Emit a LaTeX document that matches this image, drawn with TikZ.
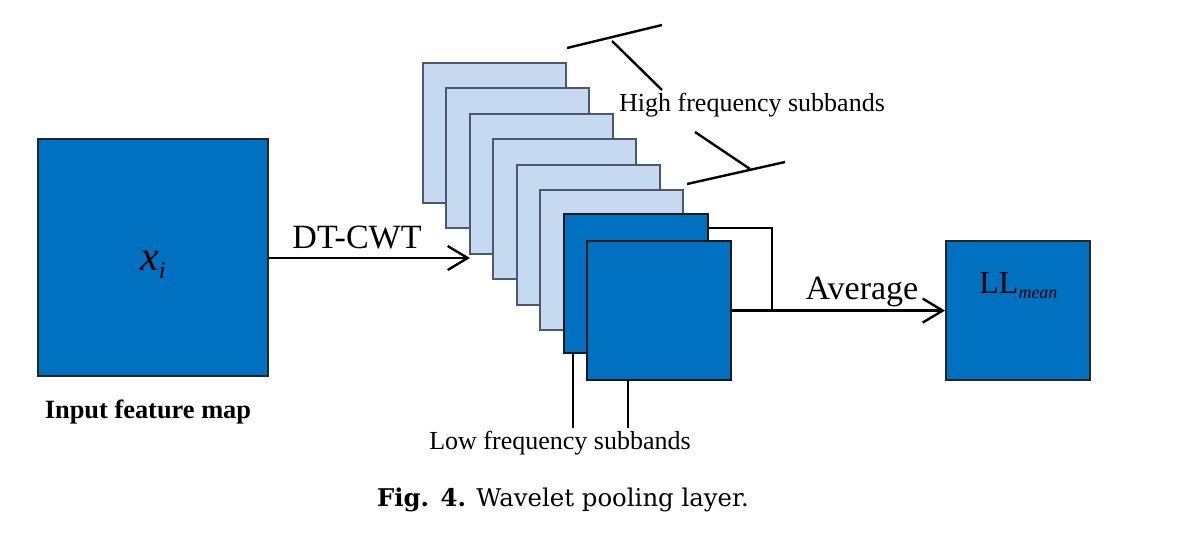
\documentclass[tikz,border=0pt]{standalone}
\usepackage{fontspec}
\setmainfont{Liberation Serif}
\newfontfamily\capfont{DejaVu Serif}
\usetikzlibrary{arrows.meta,calc}
\definecolor{darkblue}{HTML}{0070C0}
\definecolor{lightblue}{HTML}{C6D9F1}
\definecolor{lightedge}{HTML}{4A5870}
\tikzset{
  bigbox/.style={draw=black!85, line width=1pt, fill=darkblue, inner sep=0pt},
  lightsq/.style={draw=lightedge, line width=1pt, fill=lightblue, inner sep=0pt, anchor=north west, minimum width=71.5pt, minimum height=70pt},
  darksq/.style={draw=black!90, line width=1.1pt, fill=darkblue, inner sep=0pt, anchor=north west, minimum width=72pt, minimum height=69.5pt},
  conn/.style={line width=1.2pt, draw=black},
  arr/.style={conn, -{Straight Barb[length=10pt,width=12pt,line width=1.2pt]}},
  lbl/.style={inner sep=0pt, font=\fontsize{13}{15}\selectfont},
  big/.style={inner sep=0pt, font=\fontsize{17}{19}\selectfont}
}
\begin{document}
\begin{tikzpicture}[x=0.5pt,y=-0.5pt]
\useasboundingbox (0,0) rectangle (1184,552);
% input
\node[bigbox, minimum width=115pt, minimum height=118.5pt] (in) at (153,257.5) {};
\node[inner sep=0pt, font=\fontsize{21}{23}\selectfont, anchor=base] (xi) at (153,270) {\textit{x}\raisebox{-4pt}{\fontsize{12}{13}\selectfont\textit{i}}};
\node[lbl, font=\fontsize{13.2}{15}\selectfont\bfseries] (inlbl) at (148,412) {Input feature map};
% stack
\node[lightsq] (s1) at (422,62) {};
\node[lightsq] (s2) at (445.4,87.4) {};
\node[lightsq] (s3) at (468.9,112.9) {};
\node[lightsq] (s4) at (492.3,138.3) {};
\node[lightsq] (s5) at (515.7,163.7) {};
\node[lightsq] (s6) at (539.1,189.1) {};
\node[darksq] (d1) at (563,213) {};
\node[darksq] (d2) at (586,240) {};
% DT-CWT arrow
\coordinate (dtend) at (470,258);
\draw[arr] (in.east |- dtend) -- (dtend);
\node[big] (dt) at (357,237) {DT-CWT};
% LL box
\node[bigbox, minimum width=72pt, minimum height=69.5pt] (ll) at (1018,310.5) {};
\node[inner sep=0pt, font=\fontsize{16}{18}\selectfont, anchor=base west] (llt) at (979,293) {LL\textsubscript{\fontsize{9}{10}\selectfont\itshape mean}};
% average connectors
\coordinate (j1) at (772,228);
\coordinate (j2) at (772,309.5);
\draw[conn] (d1.east |- j1) -- (j1) -- (j2);
\draw[arr] (d2.east) -- (ll.west |- d2.east);
\node[big] (avg) at (862,292) {Average};
% high frequency brackets
\coordinate (h1a) at (567,48);
\coordinate (h1b) at (662,25);
\coordinate (h1s) at (612,41);
\coordinate (h1e) at (662,90);
\draw[conn] (h1a) -- (h1b);
\draw[conn] (h1s) -- (h1e);
\coordinate (h2a) at (687,184);
\coordinate (h2b) at (785,162);
\coordinate (h2s) at (750,169);
\coordinate (h2e) at (695,132);
\draw[conn] (h2a) -- (h2b);
\draw[conn] (h2s) -- (h2e);
\node[lbl] (hf) at (752,105) {High frequency subbands};
% low frequency
\coordinate (l1) at (573,428);
\coordinate (l2) at (628,428);
\draw[conn] (l1 |- d1.south) -- (l1);
\draw[conn] (l2 |- d2.south) -- (l2);
\node[lbl] (lf) at (560,443) {Low frequency subbands};
% caption
\node[inner sep=0pt, font=\capfont\fontsize{12.2}{14}\selectfont] (cap) at (563,500) {\textbf{Fig. 4.} Wavelet pooling layer.};
\end{tikzpicture}
\end{document}
